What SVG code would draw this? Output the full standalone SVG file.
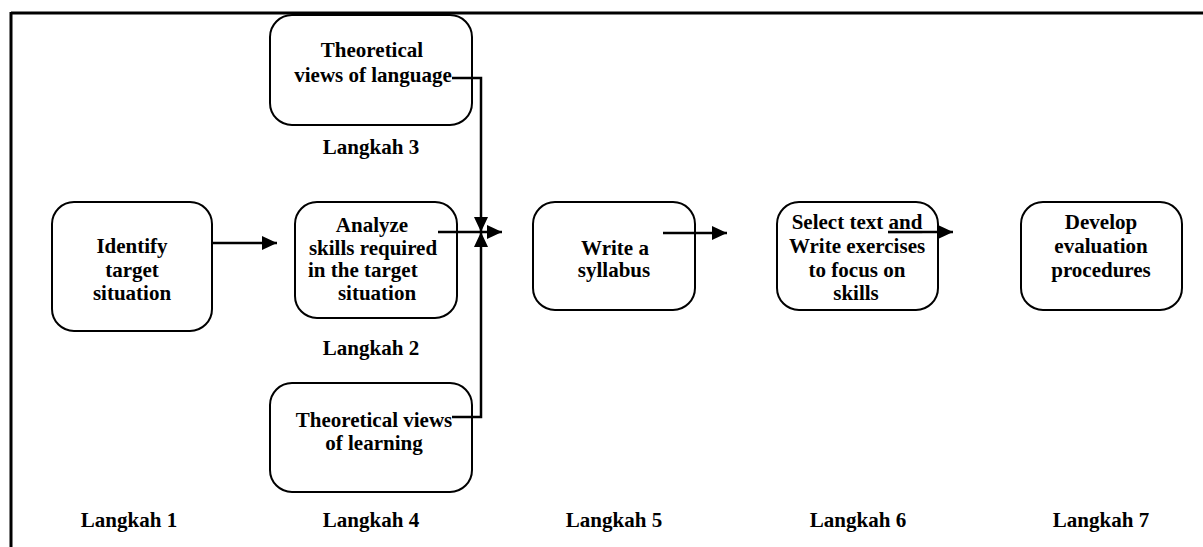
<svg xmlns="http://www.w3.org/2000/svg" width="1203" height="547" viewBox="0 0 1203 547">
<style>
.box{fill:#fff;stroke:#000;stroke-width:2}
.t{font-family:"Liberation Serif","Times New Roman",serif;font-weight:bold;font-size:21px;fill:#000;text-anchor:middle}
.c{stroke:#000;stroke-width:2.5;fill:none}
</style>
<defs>
<marker id="ah" markerUnits="userSpaceOnUse" markerWidth="16" markerHeight="16" refX="15" refY="7" orient="auto">
<path d="M0,0 L15,7 L0,14 Z" fill="#000"/>
</marker>
</defs>
<rect width="1203" height="547" fill="#fff"/>
<g id="frame">
<line x1="11" y1="13" x2="1203" y2="13" stroke="#000" stroke-width="3"/>
<line x1="11" y1="12" x2="11" y2="547" stroke="#000" stroke-width="3"/>
</g>
<g id="n1"><rect class="box" x="52" y="202" width="160" height="129" rx="22"/>
<text class="t" x="132" y="253">Identify</text><text class="t" x="132" y="277">target</text><text class="t" x="132" y="300">situation</text></g>
<g id="n2"><rect class="box" x="295" y="202" width="162" height="116" rx="22"/>
<text class="t" x="372" y="232">Analyze</text><text class="t" x="373" y="255">skills required</text><text class="t" x="308" y="277" style="text-anchor:start">in the target</text><text class="t" x="377" y="300">situation</text></g>
<g id="n3"><rect class="box" x="270" y="15" width="202" height="110" rx="22"/>
<text class="t" x="372" y="57">Theoretical</text><text class="t" x="373" y="82">views of language</text></g>
<g id="n4"><rect class="box" x="270" y="383" width="202" height="109" rx="22"/>
<text class="t" x="374" y="427">Theoretical views</text><text class="t" x="374" y="450">of learning</text></g>
<g id="n5"><rect class="box" x="533" y="202" width="162" height="108" rx="22"/>
<text class="t" x="615" y="255">Write a</text><text class="t" x="614" y="277">syllabus</text></g>
<g id="n6"><rect class="box" x="777" y="202" width="161" height="108" rx="22"/>
<text class="t" x="857" y="229">Select text <tspan text-decoration="underline">and</tspan></text><text class="t" x="857" y="253">Write exercises</text><text class="t" x="857" y="277">to focus on</text><text class="t" x="856" y="300">skills</text></g>
<g id="n7"><rect class="box" x="1021" y="202" width="161" height="108" rx="22"/>
<text class="t" x="1101" y="229">Develop</text><text class="t" x="1101" y="253">evaluation</text><text class="t" x="1101" y="277">procedures</text></g>
<g id="labels">
<text class="t" x="371" y="154">Langkah 3</text>
<text class="t" x="371" y="355">Langkah 2</text>
<text class="t" x="129" y="527">Langkah 1</text>
<text class="t" x="371" y="527">Langkah 4</text>
<text class="t" x="614" y="527">Langkah 5</text>
<text class="t" x="858" y="527">Langkah 6</text>
<text class="t" x="1101" y="527">Langkah 7</text>
</g>
<g id="connectors">
<line class="c" x1="212" y1="243" x2="277" y2="243" marker-end="url(#ah)"/>
<polyline class="c" points="452,78 481,78 481,232" marker-end="url(#ah)"/>
<polyline class="c" points="452,417 481,417 481,232" marker-end="url(#ah)"/>
<line class="c" x1="438" y1="232" x2="502" y2="232" marker-end="url(#ah)"/>
<line class="c" x1="663" y1="233" x2="727" y2="233" marker-end="url(#ah)"/>
<line class="c" x1="888" y1="232" x2="953" y2="232" marker-end="url(#ah)"/>
</g>
</svg>
